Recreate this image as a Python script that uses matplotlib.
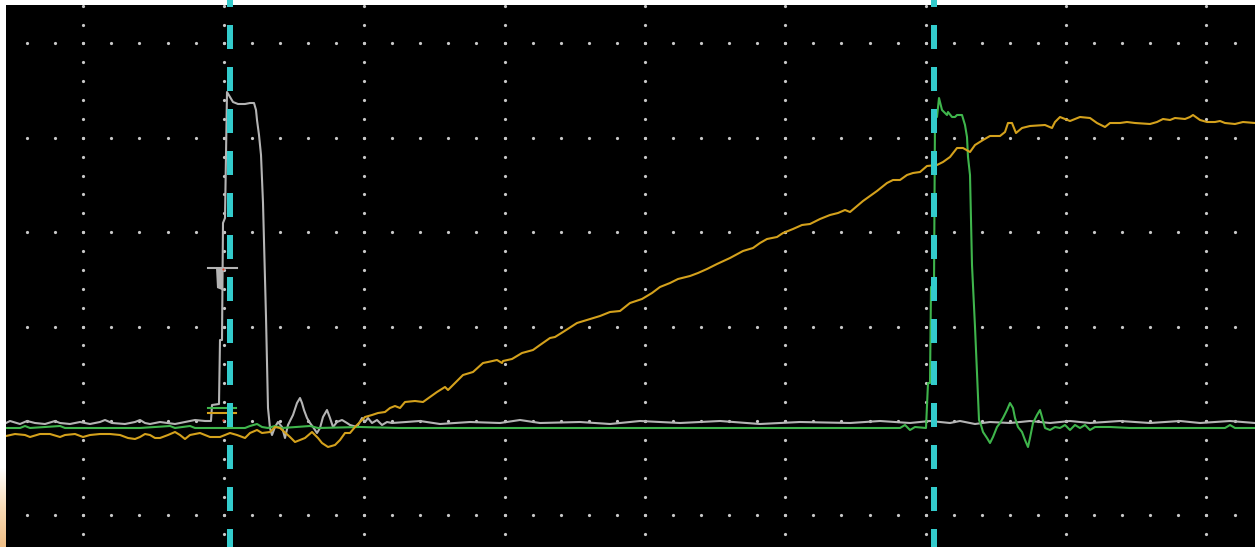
"""Scope capture: gate pulse (CH1), reset pulse (CH2) and integrator ramp (CH3)."""
import matplotlib
import matplotlib.pyplot as plt
import numpy as np
from matplotlib.colors import LinearSegmentedColormap

matplotlib.use("Agg")
plt.rcParams["lines.scale_dashes"] = False

SCREEN = "#000000"
DOT = "#c8c8c8"
CH1 = "#b4b4b4"   # gray
CH2 = "#3fb54c"   # green
CH3 = "#d4a11c"   # amber
CURSOR = "#33cbcc"
MARK_RED = "#e0402a"

# screen geometry: x in samples, y in ADC levels (0 = ground row)
N_SAMPLES = 1249
Y_MIN, Y_MAX = -126, 416
DIV_X, DIV_Y = 140.4, 94.4
FIRST_COL = 77.3

# CH1 - gate pulse
ch1_t = [0, 4, 14, 21, 29, 39, 49, 54, 64, 74, 84, 94, 99, 106, 119, 129, 134, 139,
         144, 154, 169, 179, 189, 199, 205, 206, 213, 214, 216, 217, 219, 221, 224,
         227, 232, 239, 244, 248, 250, 251, 253, 255, 257, 260, 262, 264, 266, 269,
         272, 276, 279, 282, 287, 291, 294, 296, 298, 301, 304, 307, 311, 314, 317,
         321, 324, 327, 331, 336, 341, 344, 351, 356, 359, 362, 366, 371, 376, 381,
         386, 414, 434, 464, 494, 514, 534, 574, 604, 634, 674, 714, 754, 794, 844,
         874, 904, 924, 944, 954, 969, 984, 1004, 1024, 1044, 1064, 1084, 1114, 1144,
         1174, 1194, 1224, 1249]
ch1_v = [-2, 0, -3, 0, -2, -3, 0, -2, -3, -1, -3, -1, 1, -2, -3, -1, 1, -2,
         -3, -1, -3, -1, 1, 0, 0, 16, 17, 81, 81, 198, 203, 329, 324,
         319, 317, 317, 318, 318, 311, 301, 286, 266, 218, 104, 13, -7, -14, -6,
         -1, -6, -17, -4, 6, 18, 23, 18, 11, 3, -2, -6, -12, -7, 4,
         11, 3, -6, -1, 1, -2, -4, -6, 3, -1, 3, -2, 1, -4, -1,
         -2, 0, -3, -1, -2, 1, -2, -1, -3, 0, -2, 0, -3, -1, -2,
         0, -2, 0, -2, 0, -3, -1, -2, 0, -2, 0, -2, 0, -2,
         0, -2, 0, -2]

# CH2 - reset pulse
ch2_t = [0, 14, 19, 24, 54, 59, 94, 134, 164, 169, 184, 189, 239, 244, 251, 256,
         262, 269, 276, 304, 312, 354, 394, 594, 854, 894, 899, 904, 909, 920, 922,
         924, 925, 928, 929, 931, 933, 936, 941, 942, 946, 949, 951, 956, 959, 961,
         962, 964, 966, 969, 971, 973, 975, 977, 981, 984, 987, 991, 994, 997, 1001,
         1004, 1007, 1009, 1012, 1016, 1019, 1022, 1024, 1027, 1031, 1034, 1036,
         1039, 1044, 1049, 1054, 1059, 1064, 1069, 1074, 1079, 1084, 1089, 1104,
         1124, 1219, 1224, 1229, 1249]
ch2_v = [-7, -7, -5, -7, -5, -7, -7, -7, -5, -7, -5, -7, -7, -5, -3, -6,
         -7, -5, -7, -5, -7, -6, -7, -7, -7, -7, -4, -9, -6, -7, 38,
         38, 134, 134, 304, 304, 323, 311, 306, 309, 304, 304, 306, 306, 296, 284,
         264, 246, 156, 94, 48, 1, -4, -11, -17, -22, -16, -6, -2, 3, 11,
         18, 13, 3, -6, -11, -19, -26, -17, -2, 6, 11, 4,
         -7, -9, -6, -7, -4, -9, -4, -7, -4, -9, -6, -6,
         -7, -7, -4, -7, -7]

# CH3 - integrator ramp
ch3_t = [0, 9, 19, 24, 34, 44, 54, 59, 69, 77, 84, 94, 104, 114, 122, 129, 134, 139,
         144, 149, 154, 162, 169, 174, 179, 184, 194, 204, 214, 224, 231, 239, 244,
         251, 256, 264, 269, 274, 284, 289, 294, 299, 306, 312, 316, 322, 329, 334,
         339, 344, 349, 354, 359, 366, 372, 379, 384, 389, 394, 399, 409, 417, 424,
         431, 439, 442, 454, 457, 467, 477, 482, 491, 496, 497, 506, 516, 527, 534,
         544, 549, 557, 571, 584, 594, 604, 614, 624, 636, 646, 654, 664, 672, 684,
         692, 701, 711, 724, 737, 747, 754, 761, 771, 777, 787, 796, 804, 814, 824,
         832, 839, 844, 851, 857, 864, 871, 881, 887, 894, 901, 907, 914, 921, 931,
         937, 944, 951, 957, 964, 969, 977, 984, 994, 999, 1002, 1006, 1010, 1016,
         1024, 1039, 1046, 1049, 1054, 1064, 1074, 1084, 1091, 1099, 1104, 1114,
         1121, 1129, 1144, 1151, 1157, 1164, 1169, 1179, 1184, 1187, 1194, 1201,
         1209, 1214, 1219, 1229, 1237, 1249]
ch3_v = [-15, -13, -14, -16, -13, -13, -16, -14, -13, -16, -14, -13, -13, -14, -17, -18, -16, -13,
         -14, -17, -17, -14, -11, -14, -18, -14, -12, -16, -16, -12, -14, -17, -12,
         -9, -12, -11, -6, -7, -16, -21, -19, -17, -11, -17, -22, -26, -24, -19,
         -12, -12, -6, -1, 4, 6, 8, 9, 13, 15, 13, 19, 20, 19, 24,
         29, 34, 31, 43, 46, 49, 58, 59, 61, 58, 60, 62, 68, 71, 76,
         83, 84, 89, 98, 102, 105, 109, 110, 118, 122, 128, 134, 138, 142, 145,
         148, 152, 157, 163, 170, 173, 178, 182, 184, 188, 192, 196, 197, 202, 206,
         208, 211, 209, 215, 220, 225, 230, 238, 241, 241, 246, 248, 249, 255, 256,
         259, 264, 273, 273, 269, 276, 281, 285, 285, 289, 298, 298, 288, 293,
         295, 296, 293, 299, 304, 300, 304, 303, 298, 294, 298, 298,
         299, 298, 297, 299, 302, 301, 303, 302, 304, 306, 301, 299,
         299, 300, 298, 297, 299, 298]

# cursor positions (samples)
cursor_t = [223.7, 927.8]

fig = plt.figure(figsize=(12.55, 5.47), dpi=100, facecolor="white")
ax = fig.add_axes([6 / 1255, 0, 1249 / 1255, 542 / 547])
ax.set_facecolor(SCREEN)
ax.set_xlim(0, N_SAMPLES)
ax.set_ylim(Y_MIN, Y_MAX)
ax.set_xticks([])
ax.set_yticks([])
for s in ax.spines.values():
    s.set_visible(False)

# --- dotted graticule ---
cols = FIRST_COL + DIV_X * np.arange(9)
rows = DIV_Y * np.arange(-1, 5)
col_dots = DIV_Y / 5 * np.arange(-6, 23)
row_dots = FIRST_COL + DIV_X / 5 * np.arange(-2, 42)
for c in cols:
    ax.plot(np.full_like(col_dots, c), col_dots, "o", color=DOT, ms=2.3, mew=0, zorder=1)
for r in rows:
    ax.plot(row_dots, np.full_like(row_dots, r), "o", color=DOT, ms=2.3, mew=0, zorder=1)

# --- traces ---
ax.plot(ch1_t, ch1_v, color=CH1, lw=1.5, zorder=3)
ax.plot(ch2_t, ch2_v, color=CH2, lw=1.5, zorder=4)
ax.plot(ch3_t, ch3_v, color=CH3, lw=1.5, zorder=5)

# --- trigger / channel level markers ---
ax.plot([202, 231], [153, 153], color=CH1, lw=1.5, zorder=6)
ax.fill([210, 216, 216, 211], [153, 153, 131, 133], color=CH1, lw=0, zorder=6)
ax.plot([202, 230], [13, 13], color=CH2, lw=1.5, zorder=6)
ax.plot([202, 230], [8, 8], color=CH3, lw=1.5, zorder=6)
ax.plot([217, 217], [152, 1], "o", color=MARK_RED, ms=1.6, mew=0, zorder=7)

# --- cursors, running up through the top margin ---
for t in cursor_t:
    ax.plot([t, t], [421, Y_MIN], color=CURSOR, lw=4.32,
            linestyle=(12.24, (17.28, 12.96)), solid_capstyle="butt",
            clip_on=False, zorder=8)

# warm glow in the lower-left margin
glow = fig.add_axes([0, 0, 6 / 1255, 80 / 547])
cmap = LinearSegmentedColormap.from_list("glow", ["#ffffff", "#f9dcb8", "#f0bf86"])
glow.imshow(np.linspace(0, 1, 64)[:, None], aspect="auto", cmap=cmap)
glow.set_axis_off()

fig.savefig("out.png", dpi=100, facecolor="white")
plt.close(fig)
